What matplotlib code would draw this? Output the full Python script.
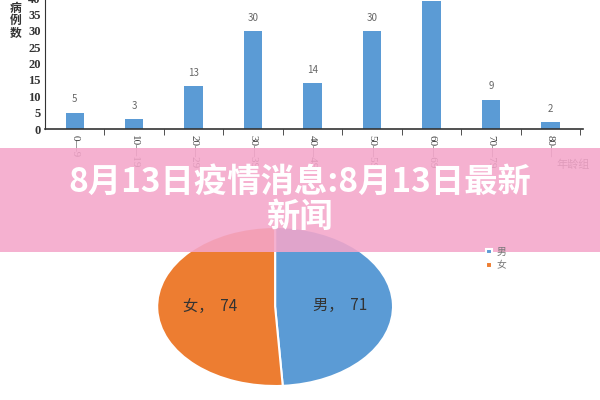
import matplotlib.pyplot as plt
from matplotlib.patches import Rectangle
import numpy as np

plt.rcParams['font.family'] = ['Noto Sans CJK SC', 'DejaVu Sans']

age_groups = ["0—9", "10—19", "20—29", "30—39", "40—49", "50—59", "60—69", "70—79", "80—"]
cases = [5, 3, 13, 30, 14, 30, 39, 9, 2]
sex_labels = ["男", "女"]
sex_counts = [71, 74]
title = "8月13日疫情消息:8月13日最新\n新闻"

blue = "#5b9bd5"
orange = "#ed7d31"

fig = plt.figure(figsize=(6, 4), dpi=100)

# bar chart (top), its top edge runs past the figure like the source screenshot
ax = fig.add_axes([0.075, 0.6775, 0.897, 0.3275])
x = np.arange(len(cases))
ax.bar(x, cases, width=0.31, color=blue)
for xi, v in zip(x, cases):
    ax.text(xi, v + 2.5, str(v), ha="center", va="bottom", fontsize=7, color="#666666",
            clip_on=True)
ax.set_xlim(-0.5, 8.55)
ax.set_ylim(0, 40)
ax.set_yticks(range(0, 41, 5))
ax.set_yticklabels([str(t) for t in range(0, 41, 5)], family="Liberation Serif",
                   fontweight="bold", fontsize=9, color="#333333")
ax.set_xticks(x)
ax.set_xticklabels(age_groups, rotation=270, fontsize=8, color="#444444",
                   family="Liberation Serif")
ax.tick_params(axis="x", length=0, pad=4)
ax.set_xticks(np.arange(0.5, 8.6, 1), minor=True)
ax.tick_params(axis="x", which="minor", length=4, direction="out", color="#333333")
ax.tick_params(axis="y", length=0, pad=3)
for s in ["top", "right"]:
    ax.spines[s].set_visible(False)
ax.spines["left"].set_color("#333333")
ax.spines["bottom"].set_color("#333333")
ax.spines["bottom"].set_linewidth(1.2)

fig.text(0.026, 0.948, "病\n例\n数", ha="center", va="center", fontsize=8.5,
         fontweight="bold", color="#333333", linespacing=0.95)
fig.text(0.955, 0.588, "年龄组", ha="center", va="center", fontsize=8, color="#555555")

# pie chart (bottom)
pax = fig.add_axes([0.262, 0.035, 0.393, 0.3975])
wedges, _ = pax.pie(sex_counts, colors=[blue, orange], startangle=90, counterclock=False,
                    wedgeprops=dict(edgecolor="white", linewidth=1.5))
pax.set_aspect("auto")
pax.set_xlim(-1, 1)
pax.set_ylim(-1, 1)
for w, lab, n in zip(wedges, sex_labels, sex_counts):
    mid = np.deg2rad((w.theta1 + w.theta2) / 2)
    pax.text(0.55 * np.cos(mid), 0.55 * np.sin(mid), f"{lab}，  {n}", ha="center",
             va="center", fontsize=11, color="#333333")

fig.legend(wedges, sex_labels, loc="upper left", bbox_to_anchor=(0.795, 0.405),
           frameon=False, fontsize=7, labelcolor="#777777", handlelength=0.6,
           handleheight=0.5, handletextpad=0.5, labelspacing=0.4)

# overlay banner
fig.add_artist(Rectangle((0, 0.37), 1, 0.26, transform=fig.transFigure,
                         facecolor="#f4a6ca", alpha=0.88, edgecolor="none", zorder=5))
fig.text(0.5, 0.5, title, ha="center", va="center", fontsize=24, fontweight="bold",
         color="white", zorder=6, linespacing=1.05)

fig.savefig("out.png", dpi=100)
